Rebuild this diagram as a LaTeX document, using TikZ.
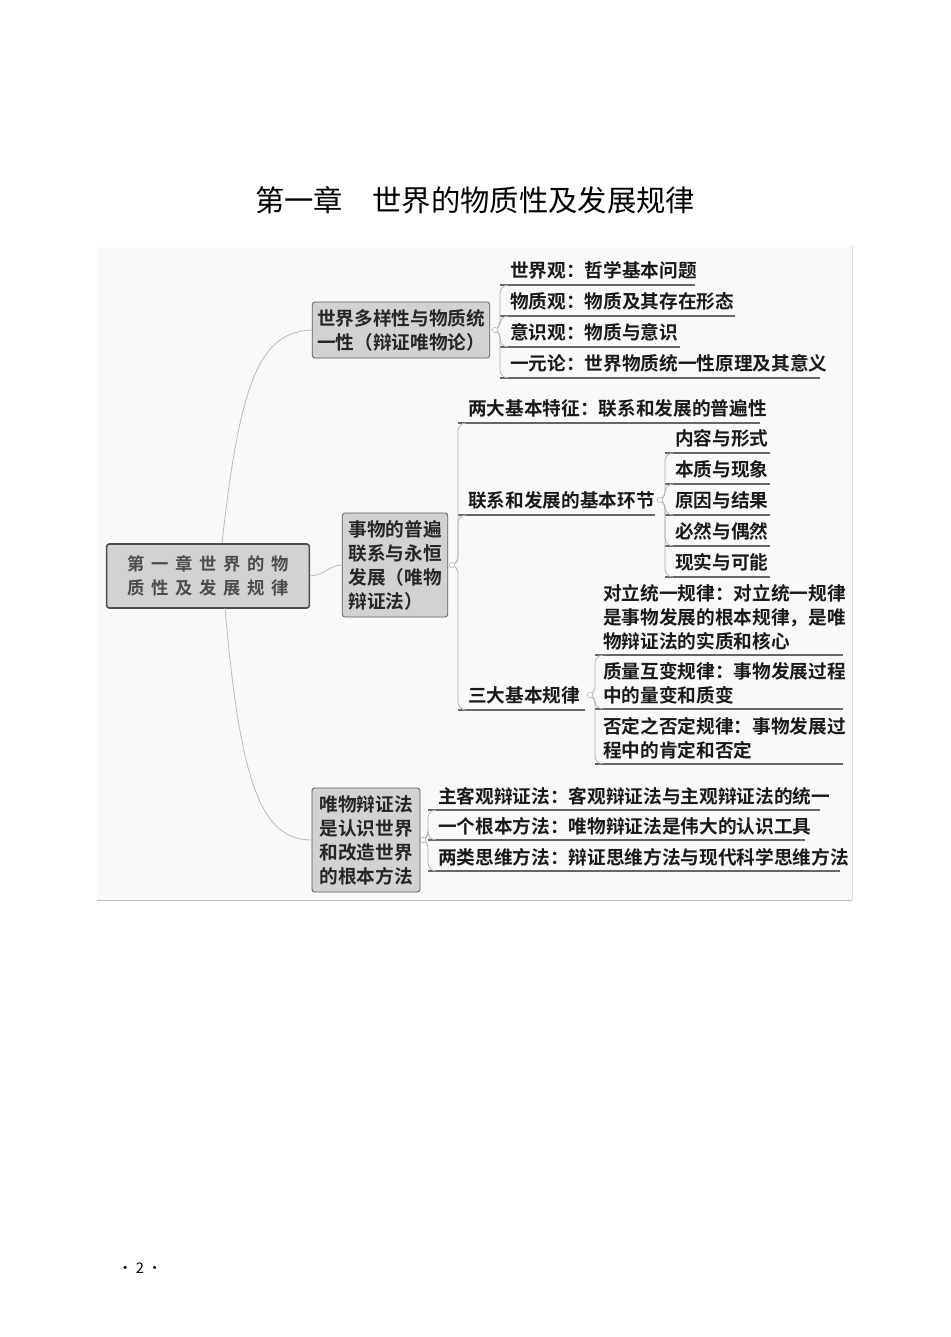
\documentclass[tikz,border=0pt]{standalone}
\usepackage{fontspec}
\setmainfont{Noto Sans CJK SC}
\newfontfamily\cjkb{Noto Sans CJK SC Bold}
\begin{document}
\begin{tikzpicture}[x=0.75pt,y=-0.75pt,
  box/.style={draw=gray!70!black,fill=gray!35,rounded corners=2pt,line width=0.6pt,inner sep=3pt,align=left,font=\cjkb\fontsize{14pt}{18pt}\selectfont,text=black!85},
  leaf/.style={anchor=west,inner sep=0pt,align=left,font=\cjkb\fontsize{14pt}{18pt}\selectfont,text=black!90},
  uline/.style={draw=gray!80!black,line width=0.8pt},
  br/.style={draw=gray!60,line width=0.6pt,rounded corners=6pt},
  curve/.style={draw=gray!55,line width=0.6pt},
  dotst/.style={circle,draw=gray!60,fill=white,inner sep=0pt,minimum size=4pt}]
\useasboundingbox (0,0) rectangle (950,1337);
\node[font=\fontsize{22pt}{26pt}\selectfont] (title) at (475,200) {第一章\hspace{1em}世界的物质性及发展规律};
\fill[gray!5] (97,245) rectangle (852,900);
\draw[gray!50] (97,900) -- (852,900);
\draw[gray!25] (852,245) -- (852,900);
\node[font=\fontsize{11pt}{13pt}\selectfont] (pg) at (140,1268) {· 2 ·};
% boxes
\node[box,minimum width=152pt,minimum height=48pt,align=center,draw=gray!60!black,line width=1.2pt,text=black!70,font=\cjkb\fontsize{13pt}{18pt}\selectfont] (root) at (208,576)
 {第\hspace{5pt}一\hspace{5pt}章\hspace{5pt}世\hspace{5pt}界\hspace{5pt}的\hspace{5pt}物\\质\hspace{5pt}性\hspace{5pt}及\hspace{5pt}发\hspace{5pt}展\hspace{5pt}规\hspace{5pt}律};
\node[box,minimum width=133pt,minimum height=42pt] (b1) at (401,330) {世界多样性与物质统\\一性（辩证唯物论）};
\node[box,minimum width=79pt,minimum height=78pt] (b2) at (395,565) {事物的普遍\\联系与永恒\\发展（唯物\\辩证法）};
\node[box,minimum width=81pt,minimum height=78pt] (b3) at (366,840) {唯物辩证法\\是认识世界\\和改造世界\\的根本方法};
% root connectors
\draw[curve] (222,543) .. controls (240,380) and (260,332) .. (b1.west);
\draw[curve] (root.east) .. controls (325,575) and (330,565) .. (b2.west);
\draw[curve] (225,608) .. controls (240,780) and (260,840) .. (b3.west);
% junctions
\coordinate (j1) at (495,330);
\coordinate (j2) at (452,565);
\coordinate (j3) at (423,840);
\coordinate (j4) at (660,500);
\coordinate (j5) at (590,695);
% leaves: name, x text, y center, underline y, x start, x end
\newcommand{\leafx}[7]{%
  \node[leaf] (#1) at (#2,#3) {#7};
  \coordinate (#1s) at (#5,#4);
  \coordinate (#1e) at (#6,#4);
  \draw[uline] (#1s) -- (#1e);}
\leafx{a1}{510}{270}{285}{500}{695}{世界观：哲学基本问题}
\leafx{a2}{510}{301}{316}{500}{735}{物质观：物质及其存在形态}
\leafx{a3}{510}{332}{347}{500}{680}{意识观：物质与意识}
\leafx{a4}{510}{363}{378}{500}{820}{一元论：世界物质统一性原理及其意义}
\foreach \n in {a1,a2,a3,a4}{\draw[br] (j1) -- (500,330) -- (\n s) -- ++(8,0);}
\leafx{c1}{468}{408}{423}{458}{760}{两大基本特征：联系和发展的普遍性}
\leafx{c2}{468}{500}{515}{458}{655}{联系和发展的基本环节}
\leafx{c3}{468}{695}{710}{458}{585}{三大基本规律}
\foreach \n in {c1,c2,c3}{\draw[br] (j2) -- (458,565) -- (\n s) -- ++(8,0);}
\leafx{d1}{675}{438}{453}{665}{770}{内容与形式}
\leafx{d2}{675}{469}{484}{665}{770}{本质与现象}
\leafx{d3}{675}{500}{515}{665}{770}{原因与结果}
\leafx{d4}{675}{531}{546}{665}{770}{必然与偶然}
\leafx{d5}{675}{562}{577}{665}{770}{现实与可能}
\foreach \n in {d1,d2,d3,d4,d5}{\draw[br] (j4) -- (665,500) -- (\n s) -- ++(8,0);}
\leafx{e1}{603}{617}{655}{595}{843}{对立统一规律：对立统一规律\\是事物发展的根本规律，是唯\\物辩证法的实质和核心}
\leafx{e2}{603}{683}{709}{595}{843}{质量互变规律：事物发展过程\\中的量变和质变}
\leafx{e3}{603}{738}{764}{595}{843}{否定之否定规律：事物发展过\\程中的肯定和否定}
\foreach \n in {e1,e2,e3}{\draw[br] (j5) -- (595,695) -- (\n s) -- ++(8,0);}
\leafx{f1}{438}{796}{810}{428}{820}{主客观辩证法：客观辩证法与主观辩证法的统一}
\leafx{f2}{438}{826}{840}{428}{805}{一个根本方法：唯物辩证法是伟大的认识工具}
\leafx{f3}{438}{857}{871}{428}{840}{两类思维方法：辩证思维方法与现代科学思维方法}
\foreach \n in {f1,f2,f3}{\draw[br] (j3) -- (428,840) -- (\n s) -- ++(8,0);}
\foreach \j in {j1,j2,j3,j4,j5}{\node[dotst] at (\j) {};}
\end{tikzpicture}
\end{document}
